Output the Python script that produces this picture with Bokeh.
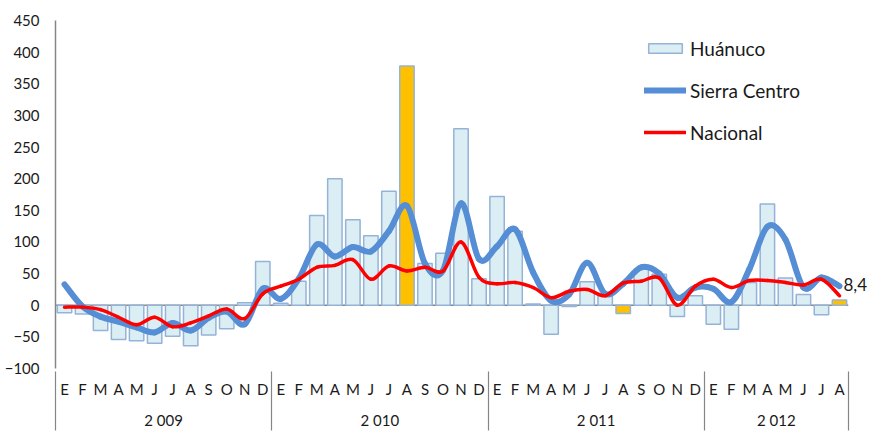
from bokeh.plotting import figure
from bokeh.models import (FixedTicker, LinearAxis, Span, Legend, LegendItem,
                          ColumnDataSource, Range1d)
from bokeh.embed import file_html
from bokeh.resources import INLINE

# ---------------- data ----------------
years = ["2 009", "2 010", "2 011", "2 012"]
months_per_year = [12, 12, 12, 8]
month_letters = ["E", "F", "M", "A", "M", "J", "J", "A", "S", "O", "N", "D"]

huanuco = [
    -12, -14, -40, -54, -56, -60, -49, -64, -47, -37, 4, 69,
    3, 38, 142, 200, 135, 110, 180, 378, 66, 82, 279, 42,
    172, 117, 2, -46, -2, 37, 15, -13, 57, 49, -18, 15,
    -30, -38, 36, 160, 43, 17, -15, 8.4,
]
sierra_centro = [
    33, -2, -18, -26, -35, -43, -28, -40, -20, -10, -30, 26,
    10, 42, 96, 77, 92, 85, 117, 157, 66, 55, 161, 73,
    93, 120, 52, 7, 17, 67, 18, 34, 60, 50, 12, 28,
    26, 5, 57, 124, 104, 28, 44, 30,
]
nacional = [
    -3, -3, -7, -19, -31, -19, -34, -28, -17, -6, -21, 18,
    30, 41, 60, 63, 72, 41, 62, 54, 60, 54, 100, 44,
    34, 36, 28, 12, 22, 25, 15, 35, 38, 43, 0, 30,
    41, 28, 39, 39, 36, 32, 41, 15,
]
# August bars of these years are highlighted in orange
highlight_years = ["2 010", "2 011", "2 012"]
highlight_month = 7

# ---------------- derived positions ----------------
n = len(huanuco)
x = list(range(n))
month_labels, year_of, month_no = [], [], []
for yr, cnt in zip(years, months_per_year):
    month_labels += month_letters[:cnt]
    year_of += [yr] * cnt
    month_no += list(range(cnt))
bounds = [-0.5]
for cnt in months_per_year:
    bounds.append(bounds[-1] + cnt)
year_centers = [(bounds[i] + bounds[i + 1]) / 2 for i in range(len(years))]

FONT = "Lato"
TXT = "#1a1a1a"
AX = "#868686"

p = figure(width=870, height=431, output_backend="svg", toolbar_location=None,
           x_range=Range1d(-0.5, n - 0.5), y_range=Range1d(-100, 450),
           min_border_left=55, min_border_right=21, min_border_top=20,
           min_border_bottom=61, x_axis_type=None, y_axis_type=None)
p.outline_line_color = None
p.xgrid.visible = False
p.ygrid.visible = False

# zero line
p.add_layout(Span(location=0, dimension="width", line_color=AX, line_width=1.5,
                  level="underlay"))

# bars
fills = ["#FFC000" if (year_of[i] in highlight_years and month_no[i] == highlight_month)
         else "#DBEEF4" for i in x]
src = ColumnDataSource(dict(x=x, top=huanuco, fill=fills))
bars = p.vbar(x="x", top="top", bottom=0, width=0.8, source=src,
              fill_color="fill", line_color="#95B3D7", line_width=1.5)


def bezier_src(xs, ys, t=1 / 6):
    d = dict(x0=[], y0=[], x1=[], y1=[], cx0=[], cy0=[], cx1=[], cy1=[])
    m = len(xs)
    for i in range(m - 1):
        a = i - 1 if i > 0 else i
        b = i + 2 if i + 2 < m else i + 1
        d["x0"].append(xs[i]); d["y0"].append(ys[i])
        d["x1"].append(xs[i + 1]); d["y1"].append(ys[i + 1])
        d["cx0"].append(xs[i] + (xs[i + 1] - xs[a]) * t)
        d["cy0"].append(ys[i] + (ys[i + 1] - ys[a]) * t)
        d["cx1"].append(xs[i + 1] - (xs[b] - xs[i]) * t)
        d["cy1"].append(ys[i + 1] - (ys[b] - ys[i]) * t)
    return ColumnDataSource(d)


blue = p.bezier(x0="x0", y0="y0", x1="x1", y1="y1", cx0="cx0", cy0="cy0",
                cx1="cx1", cy1="cy1", source=bezier_src(x, sierra_centro),
                line_color="#558ED5", line_width=6, line_cap="round")
red = p.bezier(x0="x0", y0="y0", x1="x1", y1="y1", cx0="cx0", cy0="cy0",
               cx1="cx1", cy1="cy1", source=bezier_src(x, nacional),
               line_color="#FF0000", line_width=3.5, line_cap="round")


def style_labels(ax, size="15px"):
    ax.major_label_text_font = FONT
    ax.major_label_text_font_size = size
    ax.major_label_text_color = TXT


# y axis
yax = LinearAxis(ticker=FixedTicker(ticks=list(range(-100, 451, 50))))
yax.axis_line_color = AX
yax.axis_line_width = 1.5
yax.major_tick_line_color = None
yax.minor_tick_line_color = None
yax.major_tick_out = 0
yax.minor_tick_out = 0
yax.major_label_standoff = 16
style_labels(yax)
p.add_layout(yax, "left")

# data label of the last bar, as a right-hand axis tick label
last_txt = f"{huanuco[-1]:.1f}".replace(".", ",")
lab_y = sierra_centro[-1] + 3
rax = LinearAxis(ticker=FixedTicker(ticks=[lab_y]))
rax.major_label_overrides = {lab_y: last_txt}
rax.axis_line_color = None
rax.major_tick_line_color = None
rax.minor_tick_line_color = None
rax.major_tick_out = 0
rax.minor_tick_out = 0
rax.major_label_standoff = -5
style_labels(rax, "17px")
p.add_layout(rax, "right")

# month axis
xax = LinearAxis(ticker=FixedTicker(ticks=x))
xax.major_label_overrides = {i: month_labels[i] for i in x}
xax.axis_line_color = None
xax.major_tick_line_color = None
xax.minor_tick_line_color = None
xax.major_tick_out = 0
xax.minor_tick_out = 0
xax.major_label_standoff = 11
style_labels(xax)
p.add_layout(xax, "below")

# year axis, with year separators as minor ticks
yrax = LinearAxis(ticker=FixedTicker(ticks=year_centers, minor_ticks=bounds))
yrax.major_label_overrides = {c: yr for c, yr in zip(year_centers, years)}
yrax.axis_line_color = None
yrax.major_tick_line_color = None
yrax.major_tick_out = 0
yrax.minor_tick_line_color = AX
yrax.minor_tick_line_width = 1.2
yrax.minor_tick_in = 29
yrax.minor_tick_out = 30
yrax.major_label_standoff = -20
style_labels(yrax)
p.add_layout(yrax, "below")

legend = Legend(items=[LegendItem(label="Huánuco", renderers=[bars], index=0),
                       LegendItem(label="Sierra Centro", renderers=[blue]),
                       LegendItem(label="Nacional", renderers=[red])],
                location=(589, 224), orientation="vertical")
legend.padding = 0
legend.margin = 0
legend.spacing = 18
legend.glyph_width = 42
legend.glyph_height = 12
legend.label_height = 24
legend.label_standoff = 4
legend.border_line_color = None
legend.background_fill_alpha = 0
legend.label_text_font = FONT
legend.label_text_font_size = "19px"
legend.label_text_color = TXT
p.add_layout(legend, "center")

open("out.html", "w").write(file_html(p, INLINE))
